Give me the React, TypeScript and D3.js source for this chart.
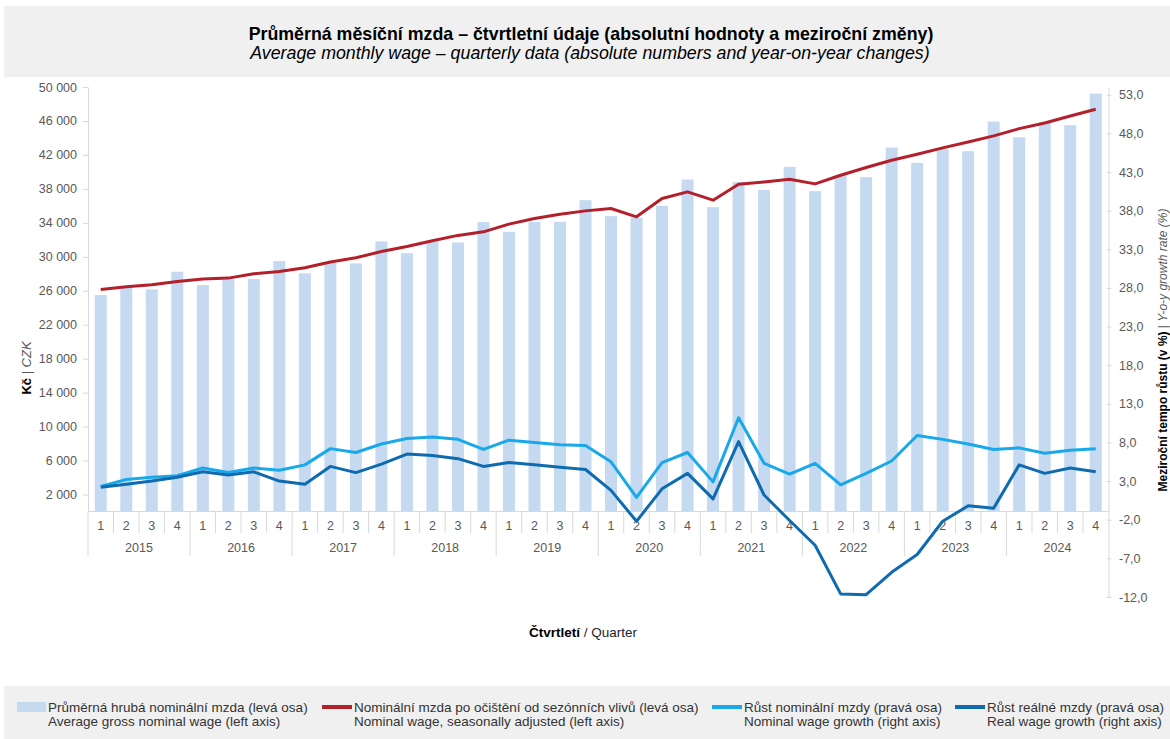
import React, { useEffect, useRef } from "react";
import * as d3 from "d3";

// quarters 2015Q1 .. 2024Q4
const years = ["2015", "2016", "2017", "2018", "2019", "2020", "2021", "2022", "2023", "2024"];
const quarters = ["1", "2", "3", "4"];

// average gross nominal wage, CZK (left axis)
const grossWage = [
  25500, 26450, 26160, 28240, 26670, 27340, 27380, 29490, 28050, 29300,
  29220, 31810, 30430, 31800, 31690, 34080, 32940, 34100, 34120, 36670,
  34790, 34600, 36000, 39100, 35850, 38800, 37880, 40590, 37730, 39650,
  39380, 42870, 41060, 42700, 42440, 45930, 44080, 45850, 45490, 49220,
];

// nominal wage, seasonally adjusted, CZK (left axis)
const wageSA = [
  26160, 26470, 26710, 27100, 27380, 27490, 28000, 28280, 28710, 29380,
  29880, 30630, 31220, 31880, 32520, 32940, 33850, 34520, 35020, 35410,
  35690, 34710, 36870, 37650, 36670, 38550, 38820, 39140, 38590, 39610,
  40520, 41380, 42080, 42830, 43530, 44240, 45100, 45760, 46590, 47380,
];

// y-o-y growth, % (right axis)
const nominalGrowth = [
  2.3, 3.2, 3.5, 3.7, 4.7, 4.1, 4.7, 4.4, 5.1, 7.2,
  6.7, 7.8, 8.5, 8.7, 8.4, 7.1, 8.3, 8.0, 7.7, 7.6,
  5.5, 0.9, 5.4, 6.7, 2.9, 11.2, 5.3, 3.9, 5.3, 2.5,
  4.0, 5.6, 8.9, 8.4, 7.8, 7.1, 7.3, 6.6, 7.0, 7.2,
];
const realGrowth = [
  2.2, 2.6, 3.0, 3.5, 4.2, 3.8, 4.2, 3.0, 2.6, 4.9,
  4.1, 5.2, 6.5, 6.3, 5.9, 4.9, 5.4, 5.1, 4.8, 4.5,
  1.8, -2.2, 2.0, 4.0, 0.7, 8.1, 1.2, -2.1, -5.3, -11.6,
  -11.7, -8.8, -6.5, -2.2, -0.2, -0.5, 5.1, 4.0, 4.7, 4.2,
];

const leftTicks = [2000, 6000, 10000, 14000, 18000, 22000, 26000, 30000, 34000, 38000, 42000, 46000, 50000];
const rightTicks = [-12, -7, -2, 3, 8, 13, 18, 23, 28, 33, 38, 43, 48, 53];

const legendCz = [
  "Průměrná hrubá nominální mzda (levá osa)",
  "Nominální mzda po očištění od sezónních vlivů (levá osa)",
  "Růst nominální mzdy (pravá osa)",
  "Růst reálné mzdy (pravá osa)",
];
const legendEn = [
  "Average gross nominal wage (left axis)",
  "Nominal wage, seasonally adjusted (left axis)",
  "Nominal wage growth (right axis)",
  "Real wage growth (right axis)",
];

const FONT = "'Liberation Sans', Arial, sans-serif";
const BAR = "#c5d9f1";
const RED = "#b3202a";
const LIGHT = "#18a9ea";
const DARK = "#0e6bb0";
const AXIS = "#d9d9d9";
const LABEL = "#595959";

const cz = d3.formatLocale({ decimal: ",", thousands: "\u00a0", grouping: [3], currency: ["", ""] });

function draw(el: SVGSVGElement) {
  const svg = d3.select(el);
  svg.selectAll("*").remove();
  svg.attr("font-family", FONT);

  const periods = years.flatMap((y) => quarters.map((q) => y + "-" + q));

  const x = d3.scaleBand().domain(periods).range([88, 1108.5]).paddingInner(0.53).paddingOuter(0.265);
  const yL = d3.scaleLinear().domain([0, 50000]).range([511.5, 87]);
  const yR = d3.scaleLinear().domain([-12, 54]).range([597, 87]);
  const step = x.step();
  const cx = (i: number) => (x(periods[i]) as number) + x.bandwidth() / 2;

  // title box
  svg.append("rect").attr("x", 4).attr("y", 6).attr("width", 1166).attr("height", 71).attr("fill", "#f0f0f0");
  svg.append("text").attr("x", 591).attr("y", 39.5).attr("text-anchor", "middle")
    .attr("font-size", 17.8).attr("font-weight", "bold").attr("fill", "#000")
    .text("Průměrná měsíční mzda – čtvrtletní údaje (absolutní hodnoty a meziroční změny)");
  svg.append("text").attr("x", 590).attr("y", 58.5).attr("text-anchor", "middle")
    .attr("font-size", 17.8).attr("font-style", "italic").attr("fill", "#000")
    .text("Average monthly wage – quarterly data (absolute numbers and year-on-year changes)");

  // bars
  svg.append("g").selectAll("rect").data(grossWage).enter().append("rect")
    .attr("x", (d, i) => x(periods[i]) as number)
    .attr("width", x.bandwidth())
    .attr("y", (d) => yL(d))
    .attr("height", (d) => yL(0) - yL(d))
    .attr("fill", BAR);

  // left axis
  const left = svg.append("g").attr("transform", "translate(88,0)")
    .call(d3.axisLeft(yL).tickValues(leftTicks).tickSize(5).tickSizeOuter(0).tickPadding(6).tickFormat((d) => cz.format(",")(d as number)));
  left.select(".domain").attr("stroke", AXIS);
  left.selectAll(".tick line").attr("stroke", AXIS);
  left.selectAll(".tick text").attr("fill", LABEL).attr("font-size", 12.5).attr("font-family", FONT);

  // right axis
  const right = svg.append("g").attr("transform", "translate(1108.5,0)")
    .call(d3.axisRight(yR).tickValues(rightTicks).tickSize(3).tickSizeOuter(0).tickPadding(7.5).tickFormat((d) => cz.format(".1f")(d as number).replace("−", "-")));
  right.select(".domain").attr("stroke", AXIS);
  right.selectAll(".tick line").attr("stroke", AXIS).attr("x1", -2);
  right.selectAll(".tick text").attr("fill", LABEL).attr("font-size", 12.5).attr("font-family", FONT);

  // category axis
  const cat = svg.append("g");
  cat.append("line").attr("x1", 88).attr("x2", 1108.5).attr("y1", 511.5).attr("y2", 511.5).attr("stroke", AXIS);
  cat.selectAll("line.sep").data(d3.range(periods.length)).enter().append("line")
    .attr("x1", (i) => 88 + i * step).attr("x2", (i) => 88 + i * step)
    .attr("y1", 511.5).attr("y2", (i) => (i % 4 === 0 ? 556 : 533))
    .attr("stroke", AXIS);
  cat.selectAll("text.q").data(periods).enter().append("text")
    .attr("x", (d, i) => cx(i)).attr("y", 530).attr("text-anchor", "middle")
    .attr("font-size", 12.5).attr("fill", LABEL)
    .text((d) => d.split("-")[1]);
  cat.selectAll("text.y").data(years).enter().append("text")
    .attr("x", (d, i) => 88 + (i * 4 + 2) * step).attr("y", 552).attr("text-anchor", "middle")
    .attr("font-size", 12.5).attr("fill", LABEL)
    .text((d) => d);

  // axis titles
  const lt = svg.append("text").attr("transform", "translate(31,368) rotate(-90)").attr("text-anchor", "middle").attr("font-size", 13);
  lt.append("tspan").attr("font-weight", "bold").attr("fill", "#000").text("Kč");
  lt.append("tspan").attr("fill", LABEL).text(" | ");
  lt.append("tspan").attr("font-style", "italic").attr("fill", LABEL).text("CZK");

  const rt = svg.append("text").attr("transform", "translate(1166.5,350) rotate(-90)").attr("text-anchor", "middle").attr("font-size", 12);
  rt.append("tspan").attr("font-weight", "bold").attr("fill", "#000").text("Meziroční tempo růstu (v %)");
  rt.append("tspan").attr("fill", LABEL).text(" | ");
  rt.append("tspan").attr("font-style", "italic").attr("fill", LABEL).text("Y-o-y growth rate (%)");

  const xt = svg.append("text").attr("x", 583).attr("y", 637).attr("text-anchor", "middle").attr("font-size", 13.5);
  xt.append("tspan").attr("font-weight", "bold").attr("fill", "#000").text("Čtvrtletí");
  xt.append("tspan").attr("fill", "#262626").text(" / Quarter");

  // lines
  const leftLine = d3.line<number>().x((d, i) => cx(i)).y((d) => yL(d));
  const rightLine = d3.line<number>().x((d, i) => cx(i)).y((d) => yR(d));
  const series: [number[], d3.Line<number>, string][] = [
    [wageSA, leftLine, RED],
    [nominalGrowth, rightLine, LIGHT],
    [realGrowth, rightLine, DARK],
  ];
  series.forEach(([data, gen, color]) => {
    svg.append("path").datum(data).attr("d", gen).attr("fill", "none")
      .attr("stroke", color).attr("stroke-width", 3).attr("stroke-linejoin", "round");
  });

  // legend
  svg.append("rect").attr("x", 4).attr("y", 686).attr("width", 1166).attr("height", 53).attr("fill", "#f0f0f0");
  const legendX = [48, 354, 744, 987];
  const colors = [BAR, RED, LIGHT, DARK];
  legendX.forEach((lx, i) => {
    if (i === 0) {
      svg.append("rect").attr("x", lx - 31).attr("y", 702).attr("width", 29).attr("height", 10).attr("fill", colors[i]);
    } else {
      svg.append("line").attr("x1", lx - 32).attr("x2", lx - 2).attr("y1", 707).attr("y2", 707)
        .attr("stroke", colors[i]).attr("stroke-width", 4);
    }
    svg.append("text").attr("x", lx).attr("y", 711.5).attr("font-size", 13.5).attr("fill", "#333").text(legendCz[i]);
    svg.append("text").attr("x", lx).attr("y", 726).attr("font-size", 13.5).attr("fill", "#333").text(legendEn[i]);
  });
}

export default function App() {
  const ref = useRef<SVGSVGElement>(null);
  useEffect(() => {
    if (ref.current) draw(ref.current);
  }, []);
  return (
    <svg ref={ref} width={1170} height={739}
      style={{ position: "absolute", left: 0, top: 0, display: "block", background: "#fff" }} />
  );
}
